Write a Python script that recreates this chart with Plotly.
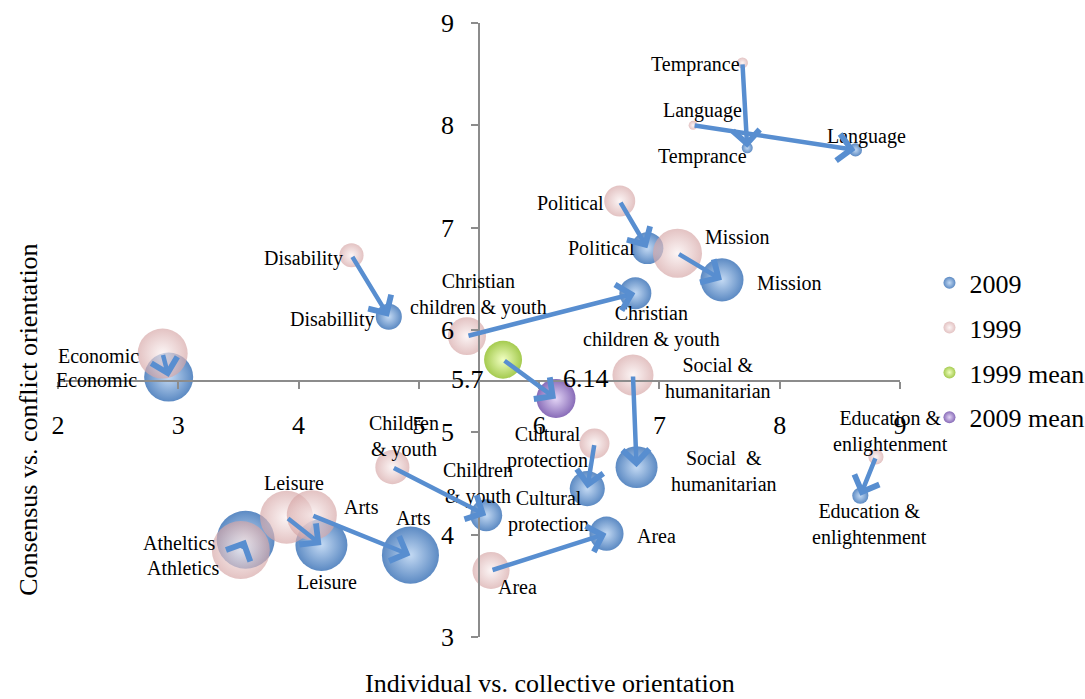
import plotly.graph_objects as go

# Organisation fields, 1999 vs 2009
categories = ["Temprance", "Language", "Political", "Mission",
              "Christian children & youth", "Disability", "Economic",
              "Social & humanitarian", "Cultural protection", "Children & youth",
              "Area", "Education & enlightenment", "Leisure", "Arts", "Athletics"]

labels_1999 = ["Temprance", "Language", "Political", "Mission",
               "Christian<br>children & youth", "Disability", "Economic",
               "Social &<br>humanitarian", "Cultural<br>protection", "Children<br>& youth",
               "Area", "Education &<br>enlightenment", "Leisure", "Arts", "Atheltics"]
labels_2009 = ["Temprance", "Language", "Political", "Mission",
               "Christian<br>children & youth", "Disabillity", "Economic",
               "Social\u00a0 &<br>humanitarian", "Cultural<br>protection", "Children<br>& youth",
               "Area", "Education &<br>enlightenment", "Leisure", "Arts", "Athletics"]

# individual vs. collective orientation
x_1999 = [7.69, 7.28, 6.67, 7.15, 5.40, 4.44, 2.87, 6.78, 6.46, 4.78, 5.60, 8.80, 3.90, 4.11, 3.52]
x_2009 = [7.73, 8.63, 6.90, 7.52, 6.80, 4.75, 2.92, 6.81, 6.40, 5.56, 6.56, 8.67, 4.19, 4.93, 3.56]
# consensus vs. conflict orientation
y_1999 = [8.61, 8.00, 7.26, 6.75, 5.94, 6.73, 5.77, 5.56, 4.89, 4.66, 3.65, 4.76, 4.17, 4.19, 3.85]
y_2009 = [7.78, 7.76, 6.80, 6.49, 6.36, 6.13, 5.54, 4.66, 4.45, 4.19, 4.01, 4.38, 3.90, 3.80, 3.95]
# bubble sizes
bubble_1999 = [1.2, 0.8, 9.6, 24.0, 14.4, 5.8, 25.0, 16.8, 9.0, 11.6, 13.7, 2.3, 28.1, 25.0, 33.6]
bubble_2009 = [1.2, 1.7, 10.2, 18.5, 10.2, 6.8, 24.0, 17.6, 12.3, 10.2, 11.6, 2.6, 27.0, 32.5, 33.6]

mean_names = ["1999 mean", "2009 mean"]
mean_x = [5.70, 6.14]
mean_y = [5.71, 5.33]
mean_bubble = [14.4, 15.2]

x_ticks = [2, 3, 4, 5, 6, 7, 8, 9]
y_ticks = [3, 4, 5, 6, 7, 8, 9]
x_range = [2, 9]
y_range = [3, 9]
x_cross = 5.5   # where the vertical axis crosses
y_cross = 5.5   # where the horizontal axis crosses

FONT = "Liberation Serif, Times New Roman, serif"
AXIS_GREY = "#8c8c8c"
ARROW = "rgb(88,142,208)"
MAX_D = 58
all_sizes = bubble_1999 + bubble_2009 + mean_bubble
sizeref = 2.0 * max(all_sizes) / MAX_D ** 2

# label offsets (px) from each bubble centre: (right, up)
off_1999 = [(-47, -2), (9, 15), (-49, -2), (60, 16), (12, 42), (-48, -3), (-64, -2),
            (85, -3), (-47, -4), (12, 31), (26, -17), (15, 25), (7, 34), (50, 8), (-62, 7)]
off_2009 = [(-45, -9), (11, 13), (-46, 0), (67, -3), (16, -33), (-57, -3), (-72, -3),
            (87, -4), (-39, -23), (-8, 32), (50, -2), (9, -29), (6, -37), (3, 37), (-63, -28)]
off_mean = [(-36, -20), (30, 20)]

fig = go.Figure()


def sphere(color, highlight):
    return dict(color=color, gradient=dict(type="radial", color=highlight),
                line=dict(width=0), sizemode="area", sizeref=sizeref)


fig.add_trace(go.Scatter(
    x=x_2009, y=y_2009, mode="markers", name="2009", text=categories,
    marker=dict(size=bubble_2009, opacity=0.92,
                **sphere("rgb(78,128,190)", "rgb(190,214,242)")),
    hovertemplate="%{text} 2009<br>%{x}, %{y}<extra></extra>"))
fig.add_trace(go.Scatter(
    x=x_1999, y=y_1999, mode="markers", name="1999", text=categories,
    marker=dict(size=bubble_1999, opacity=0.68,
                **sphere("rgb(214,166,166)", "rgb(250,240,240)")),
    hovertemplate="%{text} 1999<br>%{x}, %{y}<extra></extra>"))
fig.add_trace(go.Scatter(
    x=[mean_x[0]], y=[mean_y[0]], mode="markers", name=mean_names[0],
    marker=dict(size=[mean_bubble[0]], opacity=0.95,
                **sphere("rgb(160,200,70)", "rgb(240,255,190)"))))
fig.add_trace(go.Scatter(
    x=[mean_x[1]], y=[mean_y[1]], mode="markers", name=mean_names[1],
    marker=dict(size=[mean_bubble[1]], opacity=0.95,
                **sphere("rgb(130,100,180)", "rgb(225,210,245)"))))

annotations = []
label_font = dict(family=FONT, size=20, color="black")
for xs, ys, labs, offs in ((x_1999, y_1999, labels_1999, off_1999),
                           (x_2009, y_2009, labels_2009, off_2009)):
    for xv, yv, lab, (dx, dy) in zip(xs, ys, labs, offs):
        annotations.append(dict(x=xv, y=yv, xref="x", yref="y", text=lab,
                                showarrow=False, xshift=dx, yshift=dy,
                                xanchor="center", yanchor="middle",
                                font=label_font))
for xv, yv, (dx, dy) in zip(mean_x, mean_y, off_mean):
    annotations.append(dict(x=xv, y=yv, xref="x", yref="y", text=f"{xv:g}",
                            showarrow=False, xshift=dx, yshift=dy,
                            xanchor="center", yanchor="middle",
                            font=dict(family=FONT, size=26, color="black")))

# movement arrows 1999 -> 2009
arrow_pairs = list(zip(x_1999, y_1999, x_2009, y_2009)) + [(mean_x[0], mean_y[0], mean_x[1], mean_y[1])]
for x0, y0, x1, y1 in arrow_pairs:
    annotations.append(dict(x=x1, y=y1, ax=x0, ay=y0, xref="x", yref="y",
                            axref="x", ayref="y", text="", showarrow=True,
                            arrowhead=4, arrowsize=1.15, arrowwidth=4.5,
                            arrowcolor=ARROW, standoff=0, startstandoff=0))

# axis titles
annotations.append(dict(x=0.584, y=-0.076, xref="paper", yref="paper",
                        text="Individual vs. collective orientation", showarrow=False,
                        xanchor="center", yanchor="middle",
                        font=dict(family=FONT, size=26, color="black")))
annotations.append(dict(x=-0.035, y=0.353, xref="paper", yref="paper",
                        text="Consensus vs. conflict orientation", showarrow=False,
                        textangle=-90, xanchor="center", yanchor="middle",
                        font=dict(family=FONT, size=26, color="black")))

axis_common = dict(showline=True, linecolor=AXIS_GREY, linewidth=1.5,
                   ticks="outside", ticklen=7, tickcolor=AXIS_GREY, tickwidth=1.5,
                   showgrid=False, zeroline=False, anchor="free",
                   tickfont=dict(family=FONT, size=26, color="black"))

fig.update_layout(
    width=1085, height=699,
    margin=dict(l=58, r=185, t=23, b=62, autoexpand=False),
    paper_bgcolor="white", plot_bgcolor="white",
    font=dict(family=FONT, color="black"),
    xaxis=dict(range=x_range, tickvals=x_ticks, domain=[0, 1],
               position=(y_cross - y_range[0]) / (y_range[1] - y_range[0]),
               ticklabelstandoff=14, **axis_common),
    yaxis=dict(range=y_range, tickvals=y_ticks, domain=[0, 1],
               position=(x_cross - x_range[0]) / (x_range[1] - x_range[0]),
               ticklabelstandoff=12, **axis_common),
    legend=dict(x=1.035, y=0.615, xanchor="left", yanchor="top",
                font=dict(family=FONT, size=26, color="black"),
                itemsizing="constant", tracegroupgap=8, bgcolor="rgba(0,0,0,0)"),
    annotations=annotations,
    showlegend=True,
)
for i, tr in enumerate(fig.data):
    tr.legendgroup = f"g{i}"

fig.write_html("out.html")
